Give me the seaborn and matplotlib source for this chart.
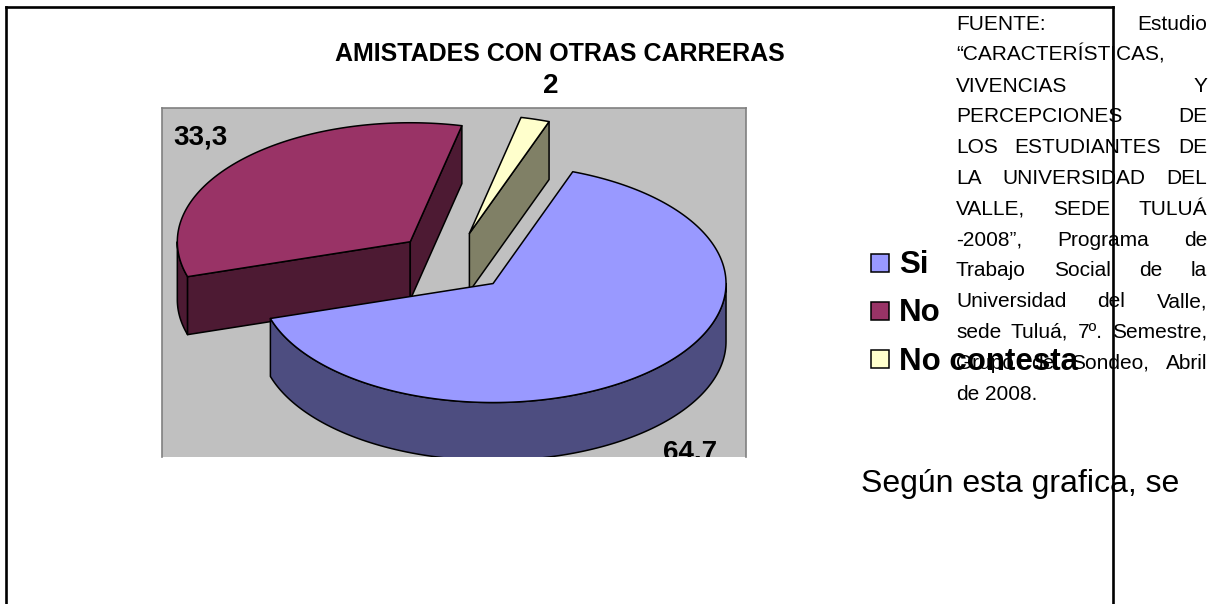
import numpy as np
import matplotlib
matplotlib.use("Agg")
import matplotlib.pyplot as plt
from matplotlib.patches import Polygon, Rectangle
import seaborn as sns

# ---- data -----------------------------------------------------------------
categories = ["Si", "No", "No contesta"]
values = [64.7, 33.3, 2]
value_labels = ["64,7", "33,3", "2"]
top_colors = ["#9999FF", "#993366", "#FFFFCC"]

title = "AMISTADES CON OTRAS CARRERAS"

source_lines = [
    "FUENTE: Estudio",
    "\u201cCARACTER\u00cdSTICAS,",
    "VIVENCIAS Y",
    "PERCEPCIONES DE",
    "LOS ESTUDIANTES DE",
    "LA UNIVERSIDAD DEL",
    "VALLE, SEDE TULU\u00c1",
    "-2008\u201d, Programa de",
    "Trabajo Social de la",
    "Universidad del Valle,",
    "sede Tulu\u00e1, 7\u00ba. Semestre,",
    "Grupo de Sondeo, Abril",
    "de 2008.",
]
body_text = "Seg\u00fan esta grafica, se"

# ---- style ----------------------------------------------------------------
sns.set_theme(style="white")
plt.rcParams["font.family"] = ["Liberation Sans", "DejaVu Sans"]

W, H = 1224, 604
fig = plt.figure(figsize=(W / 100, H / 100), dpi=100)
fig.patch.set_facecolor("white")

# page layer in pixel units (y grows downward)
page = fig.add_axes([0, 0, 1, 1], zorder=0)
page.set_xlim(0, W)
page.set_ylim(H, 0)
page.axis("off")

# ---- chart plot area --------------------------------------------------------
area_l, area_r, area_t, area_b = 162, 746, 108, 457
ax = fig.add_axes([area_l / W, 1 - area_b / H, (area_r - area_l) / W,
                   (area_b - area_t) / H], zorder=2)
ax.set_facecolor("#C0C0C0")
ax.set_xlim(-1.249, 1.258)
ax.set_ylim(-1.639, 1.294)
ax.set_xticks([])
ax.set_yticks([])
for side in ("left", "top", "right"):
    ax.spines[side].set_color("#808080")
    ax.spines[side].set_linewidth(1.2)
    ax.spines[side].set_visible(True)
ax.spines["bottom"].set_visible(False)

start_angle = 20.0   # degrees, clockwise from 12 o'clock
explode = 0.25
depth = 0.487
edge_kw = dict(edgecolor="black", linewidth=1.1, joinstyle="round")


def rim(theta_deg, rx=1.0, ry=None):
    ry = rx if ry is None else ry
    th = np.radians(theta_deg)
    return np.column_stack([rx * np.sin(th), ry * np.cos(th)])


def shade(hex_color, f=0.5):
    rgb = np.array(matplotlib.colors.to_rgb(hex_color))
    return tuple(rgb * f)


vals = np.asarray(values, dtype=float)
fracs = vals / vals.sum()
bounds = start_angle + 360.0 * np.concatenate([[0], np.cumsum(fracs)])

slices = []
for i in range(len(vals)):
    t1, t2 = bounds[i], bounds[i + 1]
    mid = 0.5 * (t1 + t2)
    off = explode * rim([mid])[0]
    slices.append((i, t1, t2, mid, off))

# back-to-front drawing order
order = sorted(slices, key=lambda s: -s[4][1])
down = np.array([0.0, depth])

for i, t1, t2, mid, off in order:
    top_c = top_colors[i]
    side_c = shade(top_c)
    # outer wall on the front half of the ellipse
    for k in range(-1, 3):
        a = max(t1, 90 + 360 * k)
        b = min(t2, 270 + 360 * k)
        if b > a:
            th = np.linspace(a, b, 160)
            upper = rim(th) + off
            lower = upper[::-1] - down
            ax.add_patch(Polygon(np.vstack([upper, lower]), closed=True,
                                 facecolor=side_c, **edge_kw))
    # radial cut faces turned toward the viewer
    for th, visible in ((t1, np.sin(np.radians(t1)) < 0),
                        (t2, np.sin(np.radians(t2)) > 0)):
        if visible:
            p = rim([th])[0] + off
            quad = np.array([off, p, p - down, off - down])
            ax.add_patch(Polygon(quad, closed=True, facecolor=side_c, **edge_kw))
    # top face
    th = np.linspace(t1, t2, 300)
    face = np.vstack([[off], rim(th) + off])
    ax.add_patch(Polygon(face, closed=True, facecolor=top_c, **edge_kw))

# value labels, clipped to the chart picture
clip_rect = Rectangle((0, 1 - area_b / H), 1, area_b / H,
                      transform=fig.transFigure, visible=False)
fig.add_artist(clip_rect)
label_rx, label_ry = 1.48, 1.54
for i, t1, t2, mid, off in slices:
    pos = rim([mid], label_rx, label_ry)[0]
    if np.cos(np.radians(mid)) < 0:
        pos = pos - down
    t = ax.text(pos[0], pos[1], value_labels[i], ha="center", va="center",
                fontsize=20, fontweight="bold", color="black", zorder=5)
    t.set_clip_on(True)
    t.set_clip_path(clip_rect)

# title
page.text(559.5, 61, title, ha="center", va="baseline", fontsize=18,
          fontweight="bold", color="black")

# ---- justified source note ---------------------------------------------------
renderer = fig.canvas.get_renderer()
txt_l, txt_r = 956, 1207
base0, step = 30, 30.8
fs_note = 15
probe = page.text(0, 0, "a a", fontsize=fs_note)
probe2 = page.text(0, 0, "aa", fontsize=fs_note)
space_w = (probe.get_window_extent(renderer).width
           - probe2.get_window_extent(renderer).width)
probe.remove()
probe2.remove()
for n, line in enumerate(source_lines):
    y = base0 + n * step
    words = line.split()
    items = [page.text(0, y, w, fontsize=fs_note, ha="left", va="baseline",
                       color="black", zorder=3) for w in words]
    widths = [it.get_window_extent(renderer).width for it in items]
    last = n == len(source_lines) - 1
    if len(words) > 1 and not last:
        gap = (txt_r - txt_l - sum(widths)) / (len(words) - 1)
    else:
        gap = space_w
    x = txt_l
    for it, wdt in zip(items, widths):
        it.set_x(x)
        x += wdt + gap

page.text(861, 492, body_text, fontsize=23, ha="left", va="baseline",
          color="black")

# ---- legend --------------------------------------------------------------------
leg_x, leg_y0, leg_step, box = 871, 262.5, 48.3, 18
for i, name in enumerate(categories):
    cy = leg_y0 + i * leg_step
    page.add_patch(Rectangle((leg_x, cy - box / 2), box, box,
                             facecolor=top_colors[i], edgecolor="black",
                             linewidth=1.1, zorder=6))
    page.text(leg_x + 28, cy + 10.5, name, fontsize=22.5, fontweight="bold",
              ha="left", va="baseline", color="black", zorder=7)

# ---- page frame ------------------------------------------------------------------
frame_kw = dict(color="black", linewidth=1.9, solid_capstyle="projecting",
                zorder=8)
page.plot([6, 1113], [7, 7], **frame_kw)
page.plot([6, 6], [7, H + 5], **frame_kw)
page.plot([1113, 1113], [7, H + 5], **frame_kw)

fig.savefig("out.png", dpi=100)
